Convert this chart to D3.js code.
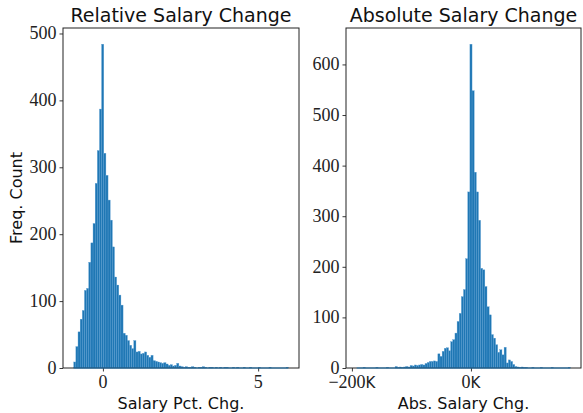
<!DOCTYPE html>
<html>
<head>
<meta charset="utf-8">
<script src="https://cdn.jsdelivr.net/npm/d3@7"></script>
<style>
  html, body { margin: 0; padding: 0; background: #fff; }
  svg { display: block; }
</style>
</head>
<body>
<svg id="chart" width="583" height="413"></svg>
<script>
// ---------- DATA ----------
const relTitle = "Relative Salary Change";
const absTitle = "Absolute Salary Change";
const relXLabel = "Salary Pct. Chg.";
const absXLabel = "Abs. Salary Chg.";
const yLabel = "Freq. Count";

// histogram range (data min / max) and counts of 100 equal bins
const relRange = [-0.94, 5.97];
const relCounts = [
  9, 32, 54, 73, 86, 116, 119, 158, 187, 216,
  276, 325, 387, 484, 321, 288, 251, 221, 181, 136,
  124, 109, 94, 52, 49, 41, 34, 29, 41, 24,
  25, 21, 22, 24, 19, 16, 19, 11, 10, 9,
  8, 7, 8, 6, 4, 5, 3, 4, 7, 3,
  2, 1, 2, 1, 1, 2, 1, 0, 1, 1,
  2, 1, 0, 1, 1, 0, 1, 0, 1, 0,
  1, 1, 0, 0, 1, 0, 1, 0, 0, 1,
  0, 0, 1, 0, 0, 0, 1, 0, 0, 0,
  0, 1, 0, 0, 0, 0, 0, 0, 0, 1
];

const absRange = [-192000, 167000];
const absCounts = [
  0, 0, 0, 1, 0, 0, 0, 0, 0, 1,
  0, 0, 0, 0, 1, 0, 0, 0, 3, 1,
  2, 1, 2, 3, 2, 5, 4, 6, 5, 6,
  7, 6, 9, 11, 13, 13, 14, 13, 28, 23,
  33, 39, 40, 34, 52, 56, 69, 92, 108, 141,
  155, 216, 348, 640, 548, 387, 348, 292, 197, 194,
  161, 121, 105, 66, 59, 46, 31, 36, 26, 41,
  10, 16, 13, 7, 3, 2, 1, 2, 1, 1,
  0, 0, 1, 0, 0, 0, 1, 0, 0, 0,
  0, 1, 0, 0, 0, 0, 0, 0, 0, 1
];

const relXTicks = [0, 5];
const relYTicks = [0, 100, 200, 300, 400, 500];
const absXTicks = [-200000, 0];
const absYTicks = [0, 100, 200, 300, 400, 500, 600];

// ---------- STYLE / LAYOUT ----------
const barColor = "#1f77b4";
const sansFont = "'DejaVu Sans', sans-serif";
const serifFont = "'Liberation Serif', serif";
const plotTop = 28, plotBottom = 368;

const svg = d3.select("#chart");

function panel(opts) {
  const { x0, x1, range, counts, xTicks, yTicks, title, xLabel, xFmt } = opts;
  const n = counts.length;
  const bw = (range[1] - range[0]) / n;
  const bins = counts.map((c, i) => ({ lo: range[0] + i * bw, hi: range[0] + (i + 1) * bw, c }));
  const pad = (range[1] - range[0]) * 0.05;
  const x = d3.scaleLinear().domain([range[0] - pad, range[1] + pad]).range([x0, x1]);
  const y = d3.scaleLinear().domain([0, d3.max(counts) * 1.05]).range([plotBottom, plotTop]);

  const g = svg.append("g");

  // bars
  g.append("g").selectAll("rect").data(bins).join("rect")
    .attr("x", d => x(d.lo))
    .attr("width", d => x(d.hi) - x(d.lo))
    .attr("y", d => y(d.c))
    .attr("height", d => y(0) - y(d.c))
    .attr("fill", barColor)
    .attr("stroke", "#5b9fd3")
    .attr("stroke-width", 0.35);

  // axes
  const xAxis = d3.axisBottom(x).tickValues(xTicks).tickSize(3.5).tickPadding(3).tickFormat(() => "");
  const yAxis = d3.axisLeft(y).tickValues(yTicks).tickSize(3.5).tickPadding(3).tickFormat(() => "");
  const gx = g.append("g").attr("transform", `translate(0,${plotBottom})`).call(xAxis);
  const gy = g.append("g").attr("transform", `translate(${x0},0)`).call(yAxis);
  [gx, gy].forEach(a => {
    a.select(".domain").remove();
    a.selectAll(".tick line").attr("stroke", "#222").attr("stroke-width", 0.9);
  });

  // frame
  g.append("rect").attr("x", x0).attr("y", plotTop).attr("width", x1 - x0).attr("height", plotBottom - plotTop)
    .attr("fill", "none").attr("stroke", "#222").attr("stroke-width", 1);

  // baseline of histogram (zero-height bar edges)
  g.append("line").attr("x1", x(range[0])).attr("x2", x(range[1]))
    .attr("y1", y(0)).attr("y2", y(0)).attr("stroke", barColor).attr("stroke-width", 1);

  // y tick labels
  g.append("g").selectAll("text").data(yTicks).join("text")
    .attr("x", x0 - 6.5).attr("y", d => y(d)).attr("dy", "0.33em")
    .attr("text-anchor", "end").attr("font-family", serifFont).attr("font-size", 18)
    .attr("fill", "#222").text(d => d);

  // x tick labels
  const xt = g.append("g").selectAll("text").data(xTicks).join("text")
    .attr("x", d => x(d)).attr("y", plotBottom + 20)
    .attr("text-anchor", "middle").attr("font-size", 18).attr("fill", "#222");
  xt.each(function(d) {
    const parts = xFmt(d);
    const t = d3.select(this);
    parts.forEach(p => t.append("tspan")
      .attr("font-family", p.serif ? serifFont : sansFont)
      .attr("font-size", p.serif ? 18 : 15)
      .text(p.s));
  });

  // title
  g.append("text").attr("x", (x0 + x1) / 2).attr("y", 22).attr("text-anchor", "middle")
    .attr("font-family", sansFont).attr("font-size", 19).attr("fill", "#111").text(title);

  // x label
  g.append("text").attr("x", (x0 + x1) / 2).attr("y", 409).attr("text-anchor", "middle")
    .attr("font-family", sansFont).attr("font-size", 16).attr("fill", "#111").text(xLabel);
}

panel({
  x0: 63, x1: 299, range: relRange, counts: relCounts,
  xTicks: relXTicks, yTicks: relYTicks, title: relTitle, xLabel: relXLabel,
  xFmt: d => [{ s: String(d), serif: true }]
});

panel({
  x0: 346, x1: 581, range: absRange, counts: absCounts,
  xTicks: absXTicks, yTicks: absYTicks, title: absTitle, xLabel: absXLabel,
  xFmt: d => [{ s: (d < 0 ? "\u2212" : "") + Math.abs(d / 1000), serif: true }, { s: "K", serif: false }]
});

// shared y label
svg.append("text")
  .attr("transform", `translate(22,${(plotTop + plotBottom) / 2}) rotate(-90)`)
  .attr("text-anchor", "middle").attr("font-family", sansFont).attr("font-size", 16)
  .attr("fill", "#111").text(yLabel);
</script>
</body>
</html>
